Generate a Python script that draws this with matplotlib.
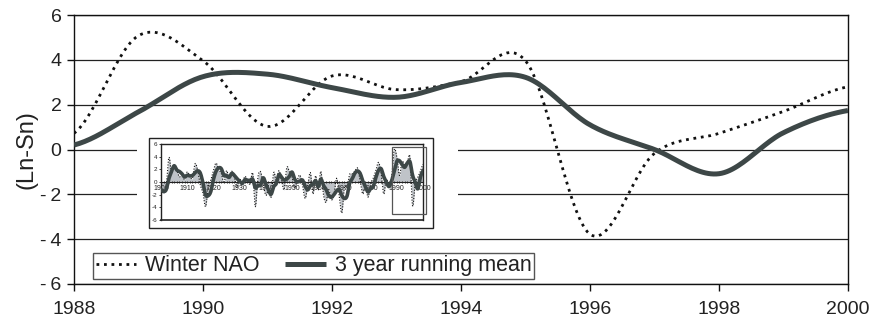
import numpy as np
import pandas as pd
import matplotlib
matplotlib.use('Agg')
import matplotlib.pyplot as plt
from matplotlib.patches import Rectangle

plt.rcParams['font.family'] = ['Liberation Sans', 'DejaVu Sans']

# winter NAO index (Lisbon - Stykkisholmur), 1988-2000
years = [1988, 1989, 1990, 1991, 1992, 1993, 1994, 1995, 1996, 1997, 1998, 1999, 2000]
nao = [0.72, 5.08, 3.96, 1.03, 3.28, 2.67, 3.03, 3.96, -3.78, -0.17, 0.72, 1.70, 2.80]
nao_mean3 = [0.2, 1.68, 3.25, 3.36, 2.76, 2.33, 2.99, 3.22, 1.1, 0.0, -1.08, 0.75, 1.74]

x_ticks = [1988, 1990, 1992, 1994, 1996, 1998, 2000]
y_ticks = [-6, -4, -2, 0, 2, 4, 6]
y_ticklabels = ['-\u20096', '-\u20094', '-\u20092', '0', '2', '4', '6']

# full record for the small panel, 1900-2000
long_years = list(range(1900, 2001))
long_nao = [
    -1.2, -1.8, -0.5, 3.9, 1.5, 2.3, 1.9, 0.8, 1.2, 0.4,
    1.6, 0.9, 0.6, 2.9, 1.8, -0.5, -1.7, -3.9, -0.9, 0.3,
    1.8, 3.0, 1.9, 1.4, -0.2, 1.8, 0.6, 1.7, 0.8, -0.9,
    0.5, -0.3, 0.9, 0.2, -0.3, 1.4, -3.9, 0.8, 1.6, -0.4,
    -2.1, -1.3, -2.4, 1.5, 0.2, 1.8, 0.3, -1.2, 2.3, 1.6,
    0.8, -1.0, 0.3, 1.1, -0.5, -2.6, -0.6, 1.5, -1.9, 1.0,
    -1.3, 1.7, -2.0, -3.2, -1.2, -2.8, -2.0, 0.6, -2.1, -4.9,
    -0.8, -0.9, 1.2, 1.3, 1.7, 2.2, 0.2, -1.9, -0.4, -2.4,
    -0.3, 0.6, 1.8, 3.1, 1.4, -1.9, 0.5, -0.75, 0.72, 5.08,
    3.96, 1.03, 3.28, 2.67, 3.03, 3.96, -3.78, -0.17, 0.72, 1.70,
    2.80]
long_ticks = list(range(1900, 2001, 10))
long_yticks = [-6, -4, -2, 0, 2, 4, 6]


def smooth(x, y, n=24):
    # cardinal (Catmull-Rom) spline through the points, like a "smoothed line"
    x = np.asarray(x, float)
    y = np.asarray(y, float)
    m = np.empty_like(y)
    m[1:-1] = (y[2:] - y[:-2]) / 2
    m[0] = (y[1] - y[0]) / 2
    m[-1] = (y[-1] - y[-2]) / 2
    xs, ys = [], []
    t = np.linspace(0, 1, n, endpoint=False)
    h00 = 2 * t**3 - 3 * t**2 + 1
    h10 = t**3 - 2 * t**2 + t
    h01 = -2 * t**3 + 3 * t**2
    h11 = t**3 - t**2
    for i in range(len(x) - 1):
        xs.append(x[i] + t * (x[i + 1] - x[i]))
        ys.append(h00 * y[i] + h10 * m[i] + h01 * y[i + 1] + h11 * m[i + 1])
    xs.append([x[-1]])
    ys.append([y[-1]])
    return np.concatenate(xs), np.concatenate(ys)


fig = plt.figure(figsize=(8.78, 3.2), dpi=100)
ax = fig.add_axes([0.0843, 0.1125, 0.8815, 0.8406])

for v in y_ticks:
    ax.axhline(v, color='#222222', lw=0.9, zorder=1)

sx, sy = smooth(years, nao)
ax.plot(sx, sy, color='#111111', lw=2.0, ls=(0, (1, 1.7)), label='Winter NAO', zorder=3)
mx, my = smooth(years, nao_mean3)
ax.plot(mx, my, color='#3d4747', lw=3.6, label='3 year running mean', zorder=3,
        solid_capstyle='butt')

ax.set_xlim(1988, 2000)
ax.set_ylim(-6, 6)
ax.set_xticks(x_ticks)
ax.set_xticklabels([str(v) for v in x_ticks])
ax.set_yticks(y_ticks)
ax.set_yticklabels(y_ticklabels)
ax.tick_params(direction='out', length=5, width=1, labelsize=14, pad=4,
               colors='#111111', labelcolor='#222222')
ax.tick_params(axis='x', pad=7)
for s in ax.spines.values():
    s.set_color('#111111')
    s.set_linewidth(1)
ax.set_ylabel('(Ln-Sn)', fontsize=17, color='#222222', labelpad=2)

leg = ax.legend(loc='lower left', bbox_to_anchor=(0.0245, 0.0186), borderaxespad=0,
                ncol=2, fontsize=15.5, frameon=True, fancybox=False, framealpha=1,
                edgecolor='#555555', handlelength=1.9, handletextpad=0.4,
                columnspacing=1.2, borderpad=0.12)
leg.get_frame().set_linewidth(1.0)
for t in leg.get_texts():
    t.set_color('#222222')

# white panel holding the 1900-2000 record
fig.patches.append(Rectangle((0.156, 0.2625), 0.3656, 0.33125, transform=fig.transFigure,
                             facecolor='white', edgecolor='none', zorder=1))
fig.patches.append(Rectangle((0.1697, 0.2875), 0.3235, 0.28125, transform=fig.transFigure,
                             facecolor='white', edgecolor='#222222', lw=1.0, zorder=1))

ins = fig.add_axes([0.1834, 0.3125, 0.2984, 0.2375], zorder=2)
lx, ly = smooth(long_years, long_nao, n=6)
ins.fill_between(lx, ly, 0, color='#bfc3c8', lw=0, zorder=1)
ins.plot(lx, ly, color='#111111', lw=0.8, ls=(0, (1, 1.5)), zorder=2)
long_mean3 = pd.Series(long_nao).rolling(3, min_periods=1).mean().to_numpy()
rx, ry = smooth(long_years, long_mean3, n=6)
ins.plot(rx, ry, color='#3d4747', lw=2.6, zorder=3)
ins.add_patch(Rectangle((1988, -5), 13.3, 10.5, facecolor='none', edgecolor='#555555',
                        lw=0.9, clip_on=False, zorder=4))
ins.axhline(-6, color='#222222', lw=1.2, clip_on=False)

ins.set_xlim(1900, 2000)
ins.set_ylim(-6, 6)
ins.spines['bottom'].set_position(('data', 0))
for s in ins.spines.values():
    s.set_color('#222222')
    s.set_linewidth(1.0)
ins.spines['bottom'].set_linewidth(0.8)
ins.set_xticks(long_ticks)
ins.set_xticklabels([str(v) for v in long_ticks])
ins.set_xticks(long_years, minor=True)
ins.set_yticks(long_yticks)
ins.set_yticklabels([str(v) for v in long_yticks])
ins.tick_params(axis='x', which='both', direction='inout', length=2, width=0.6,
                labelsize=5, pad=1, colors='#222222')
ins.tick_params(axis='y', direction='out', length=1.5, width=0.6, labelsize=4.5, pad=1,
                colors='#222222')

fig.savefig('out.png', dpi=100)
